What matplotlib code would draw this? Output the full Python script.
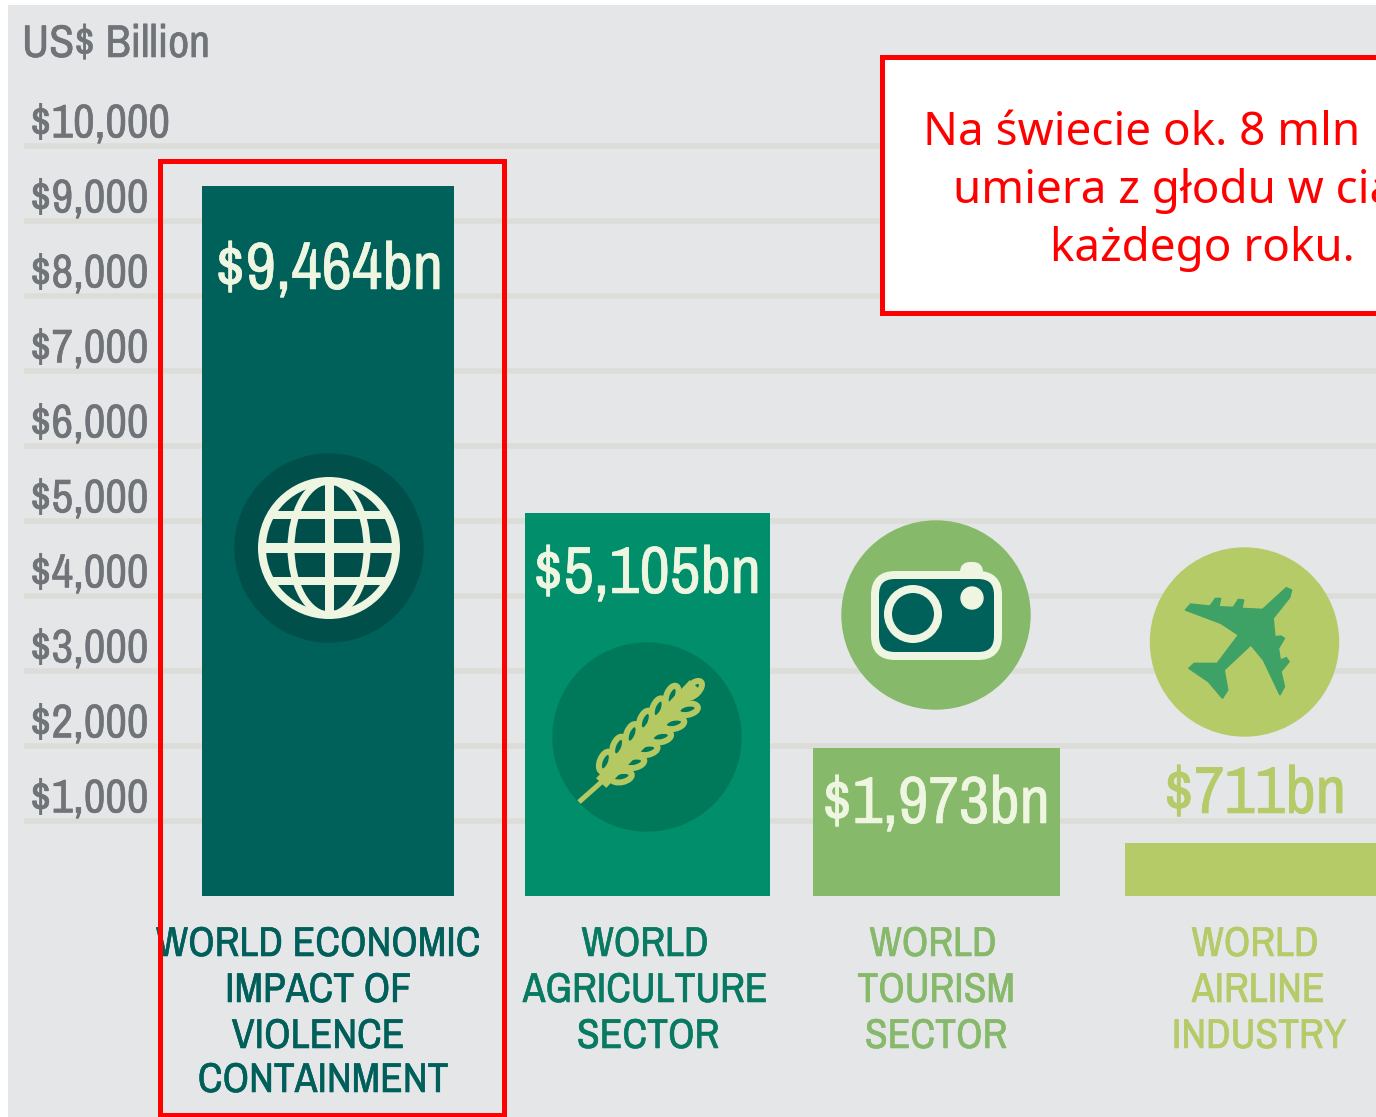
import numpy as np
import matplotlib
matplotlib.use('Agg')
import matplotlib.pyplot as plt
import matplotlib.patheffects as pe
from matplotlib.patches import Circle, Ellipse, FancyBboxPatch, Polygon, Rectangle

# data
valores = [9464, 5105, 1973, 711]
rotulos_valor = ['$9,464bn', '$5,105bn', '$1,973bn', '$711bn']
categorias = [
	['WORLD ECONOMIC', 'IMPACT OF', 'VIOLENCE', 'CONTAINMENT'],
	['WORLD', 'AGRICULTURE', 'SECTOR'],
	['WORLD', 'TOURISM', 'SECTOR'],
	['WORLD', 'AIRLINE', 'INDUSTRY'],
]
ticks = [1000, 2000, 3000, 4000, 5000, 6000, 7000, 8000, 9000, 10000]
titulo_eixo = 'US$ Billion'
nota = ['Na świecie ok. 8 mln ludzi', 'umiera z głodu w ciągu', 'każdego roku.']

# layout / style
W, H = 1376, 1117
PX_POR_MIL = 75.0
Y_ZERO = 896.0
bar_esq = [202, 525, 813, 1125]
bar_larg = [252, 245, 247, 256]
cores = ['#00605a', '#008f6a', '#87b96b', '#b5cb68']
cores_rotulo = ['#005f5a', '#087a62', '#87b96b', '#b5cb68']
cores_valor = ['#eef5e0', '#eef5e0', '#eef5e0', '#b5cb68']
valor_xy = [(329, 271), (647, 575), (936, 805), (1255, 795)]
rotulo_x = [[318, 318, 318, 323], [645, 645, 648], [933, 936, 936], [1255, 1258, 1259]]
rotulo_y = [944, 990, 1036, 1080]
CINZA = '#707478'
CREME = '#eef5e0'
FONTE = ['Archivo Narrow', 'Liberation Sans Narrow', 'Liberation Sans']
px = 0.72  # 1 px in points at dpi 100


def grosso(c):
	return [pe.withStroke(linewidth=0.4, foreground=c)]


fig = plt.figure(figsize=(W / 100, H / 100), dpi=100, facecolor='white')
fig.add_artist(Rectangle((8 / W, 0), 1 - 8 / W, 1 - 5 / H, transform=fig.transFigure,
	facecolor='#e5e6e8', edgecolor='none', zorder=-1))

# value axis: gridlines and bars
ax = fig.add_axes([0, 0, 1, 1])
ax.patch.set_alpha(0)
ax.set_xlim(0, W)
ax.set_ylim(-(H - Y_ZERO) / PX_POR_MIL * 1000, Y_ZERO / PX_POR_MIL * 1000)
ax.axis('off')
ax.hlines(ticks, 24, W, color='#dcdcd8', lw=5.5 * px, zorder=1)
ax.bar(bar_esq, valores, width=bar_larg, align='edge', color=cores, zorder=2)
for t in ticks:
	ax.text(30, t + 295, '$' + format(t, ','), family=FONTE, fontsize=34, color=CINZA,
		ha='left', va='center', zorder=3, path_effects=grosso(CINZA))

# overlay in pixel coordinates: icons, notes, text
d = fig.add_axes([0, 0, 1, 1])
d.patch.set_alpha(0)
d.set_xlim(0, W)
d.set_ylim(H, 0)
d.axis('off')

d.text(22, 44, titulo_eixo, family=FONTE, fontsize=33, color=CINZA, ha='left', va='center',
	path_effects=grosso(CINZA))

for xy, s, c in zip(valor_xy, rotulos_valor, cores_valor):
	d.text(xy[0], xy[1], s, family=FONTE, fontsize=48, color=c, ha='center', va='center',
		path_effects=grosso(c))

for linhas, xs, c in zip(categorias, rotulo_x, cores_rotulo):
	for s, x, y in zip(linhas, xs, rotulo_y):
		d.text(x, y, s, family=FONTE, fontsize=30, color=c, ha='center', va='center',
			path_effects=grosso(c))

# globe
d.add_patch(Circle((329, 548), 94, color='#004f4b'))
gx, gy, gr = 329, 548, 67
d.add_patch(Circle((gx, gy), gr, fc='none', ec=CREME, lw=8 * px))
d.add_patch(Ellipse((gx, gy), 76, 2 * gr, fc='none', ec=CREME, lw=7 * px))
d.plot([gx, gx], [gy - gr, gy + gr], color=CREME, lw=9 * px, solid_capstyle='butt')
for dy, lw in [(-33, 8), (0, 10), (33, 8)]:
	meia = np.sqrt(gr ** 2 - dy ** 2)
	d.plot([gx - meia, gx + meia], [gy + dy, gy + dy], color=CREME, lw=lw * px, solid_capstyle='butt')

# wheat
VERDE_TRIGO = '#b5c963'
d.add_patch(Circle((647, 737), 94, color='#00795a'))
d.plot([579, 606], [802, 778], color=VERDE_TRIGO, lw=5 * px, solid_capstyle='butt')
d.plot([606, 690], [778, 690], color=VERDE_TRIGO, lw=14 * px)
sup = [(1135, 995), (1172, 950), (1210, 912), (1247, 872), (1283, 835), (1322, 797)]
inf = [(1180, 1040), (1215, 997), (1252, 958), (1290, 920), (1327, 880), (1365, 838)]
for X, Y in sup:
	d.add_patch(Ellipse((200 + X / 2.8, 430 + Y / 3), 11, 21, angle=22, fc='#00795a', ec=VERDE_TRIGO, lw=6 * px))
for X, Y in inf:
	d.add_patch(Ellipse((200 + X / 2.8, 430 + Y / 3), 21, 11, angle=-12, fc='#00795a', ec=VERDE_TRIGO, lw=6 * px))
d.add_patch(Ellipse((200 + 1382 / 2.8, 430 + 778 / 3), 11, 21, angle=45, fc='#00795a', ec=VERDE_TRIGO, lw=6 * px))

# camera
d.add_patch(Circle((936, 615), 94, color='#87b96b'))
d.add_patch(FancyBboxPatch((964, 566), 15, 12, boxstyle='round,pad=0,rounding_size=6',
	fc=CREME, ec=CREME, lw=8 * px))
d.add_patch(FancyBboxPatch((875, 575), 123, 81, boxstyle='round,pad=0,rounding_size=20',
	fc='#00605a', ec=CREME, lw=8 * px))
d.add_patch(Circle((913, 614), 25, fc='none', ec=CREME, lw=8 * px))
d.add_patch(Circle((972, 598), 11, color=CREME))

# plane
d.add_patch(Circle((1244.5, 642), 94, color='#b5cb68'))
aviao = [(1315, 263), (1330, 270), (1325, 292), (1278, 355), (1283, 410), (1300, 408), (1310, 415),
	(1293, 445), (1298, 480), (1315, 473), (1323, 485), (1300, 515), (1310, 560), (1297, 585),
	(1250, 480), (1215, 435), (1140, 510), (1150, 570), (1135, 595), (1095, 545), (1040, 505),
	(1055, 490), (1120, 490), (1180, 405), (1130, 370), (1030, 330), (1045, 312), (1100, 318),
	(1115, 295), (1130, 295), (1125, 320), (1165, 322), (1180, 298), (1195, 300), (1190, 325), (1248, 328)]
d.add_patch(Polygon([(820 + X / 2.82, 500 + Y / 3) for X, Y in aviao], closed=True, color='#3ea266'))

# red boxes
d.add_patch(Rectangle((160, 161), 344, 954, fc='none', ec='#ff0000', lw=5 * px, zorder=6))
d.add_patch(Rectangle((882, 57), 600, 256, fc='white', ec='#ff0000', lw=5 * px, zorder=6))
for s, x, y in zip(nota, [923, 953, 1050], [133, 191, 249]):
	d.text(x, y, s, family='Noto Sans', fontsize=33, color='#ff0000', ha='left', va='center', zorder=7)

plt.savefig('out.png', dpi=100)
